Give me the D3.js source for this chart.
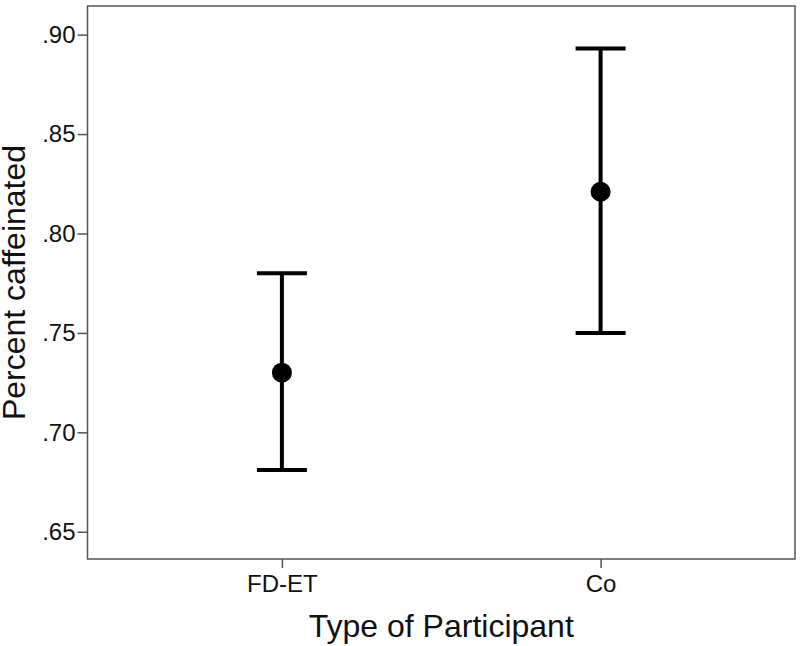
<!DOCTYPE html>
<html lang="en">
  <head>
    <meta charset="UTF-8" />
    <title>Percent caffeinated by type of participant</title>
    <script src="https://d3js.org/d3.v7.min.js"></script>
    <style>
      body {
        margin: 0;
        background: #fff;
        font-family: Arial, "Liberation Sans", sans-serif;
      }
      .tick text {
        fill: #111;
      }
    </style>
  </head>
  <body>
    <svg id="chart" width="800" height="646"></svg>
    <script>
      // values (means with error bar ends)
      const groups = ["FD-ET", "Co"];
      const means = [0.730, 0.821];
      const lower = [0.681, 0.750];
      const upper = [0.780, 0.893];
      const yTicks = [0.65, 0.7, 0.75, 0.8, 0.85, 0.9];

      const svg = d3.select("#chart");
      const margin = { top: 6, right: 5, bottom: 87, left: 87.5 };
      const width = 800 - margin.left - margin.right;
      const height = 646 - margin.top - margin.bottom;

      const g = svg
        .append("g")
        .attr("transform", `translate(${margin.left},${margin.top})`);

      const x = d3.scalePoint().domain(groups).range([0, width]).padding(0.61);
      const y = d3.scaleLinear().domain([0.6363, 0.9144]).range([height, 0]);

      // frame
      g.append("rect")
        .attr("width", width)
        .attr("height", height)
        .attr("fill", "none")
        .attr("stroke", "#555")
        .attr("stroke-width", 1.5);

      const fmt = (d) => d3.format(".2f")(d).replace(/^0/, "");

      const yAxis = g
        .append("g")
        .call(d3.axisLeft(y).tickValues(yTicks).tickSize(10).tickPadding(2).tickFormat(fmt));
      yAxis.select(".domain").remove();
      yAxis.selectAll("line").attr("stroke", "#555").attr("stroke-width", 1.5);
      yAxis.selectAll("text").style("font-size", "24px").style("font-family", "Arial, 'Liberation Sans', sans-serif");

      const xAxis = g
        .append("g")
        .attr("transform", `translate(0,${height})`)
        .call(d3.axisBottom(x).tickSize(9).tickPadding(7));
      xAxis.select(".domain").remove();
      xAxis.selectAll("line").attr("stroke", "#555").attr("stroke-width", 1.5);
      xAxis.selectAll("text").style("font-size", "24px").style("font-family", "Arial, 'Liberation Sans', sans-serif");

      // error bars
      const capHalf = 25;
      const bars = g
        .selectAll(".bar")
        .data(groups)
        .enter()
        .append("g")
        .attr("class", "bar");

      bars
        .append("line")
        .attr("x1", (d) => x(d))
        .attr("x2", (d) => x(d))
        .attr("y1", (d, i) => y(lower[i]))
        .attr("y2", (d, i) => y(upper[i]))
        .attr("stroke", "#000")
        .attr("stroke-width", 4);

      bars
        .append("line")
        .attr("x1", (d) => x(d) - capHalf)
        .attr("x2", (d) => x(d) + capHalf)
        .attr("y1", (d, i) => y(upper[i]))
        .attr("y2", (d, i) => y(upper[i]))
        .attr("stroke", "#000")
        .attr("stroke-width", 4);

      bars
        .append("line")
        .attr("x1", (d) => x(d) - capHalf)
        .attr("x2", (d) => x(d) + capHalf)
        .attr("y1", (d, i) => y(lower[i]))
        .attr("y2", (d, i) => y(lower[i]))
        .attr("stroke", "#000")
        .attr("stroke-width", 4);

      bars
        .append("circle")
        .attr("cx", (d) => x(d))
        .attr("cy", (d, i) => y(means[i]))
        .attr("r", 10)
        .attr("fill", "#000");

      // axis titles
      svg
        .append("text")
        .attr("x", margin.left + width / 2)
        .attr("y", 637)
        .attr("text-anchor", "middle")
        .style("font-size", "32px")
        .style("fill", "#111")
        .text("Type of Participant");

      svg
        .append("text")
        .attr("transform", `translate(25,${margin.top + height / 2}) rotate(-90)`)
        .attr("text-anchor", "middle")
        .style("font-size", "32px")
        .style("fill", "#111")
        .text("Percent caffeinated");
    </script>
  </body>
</html>
